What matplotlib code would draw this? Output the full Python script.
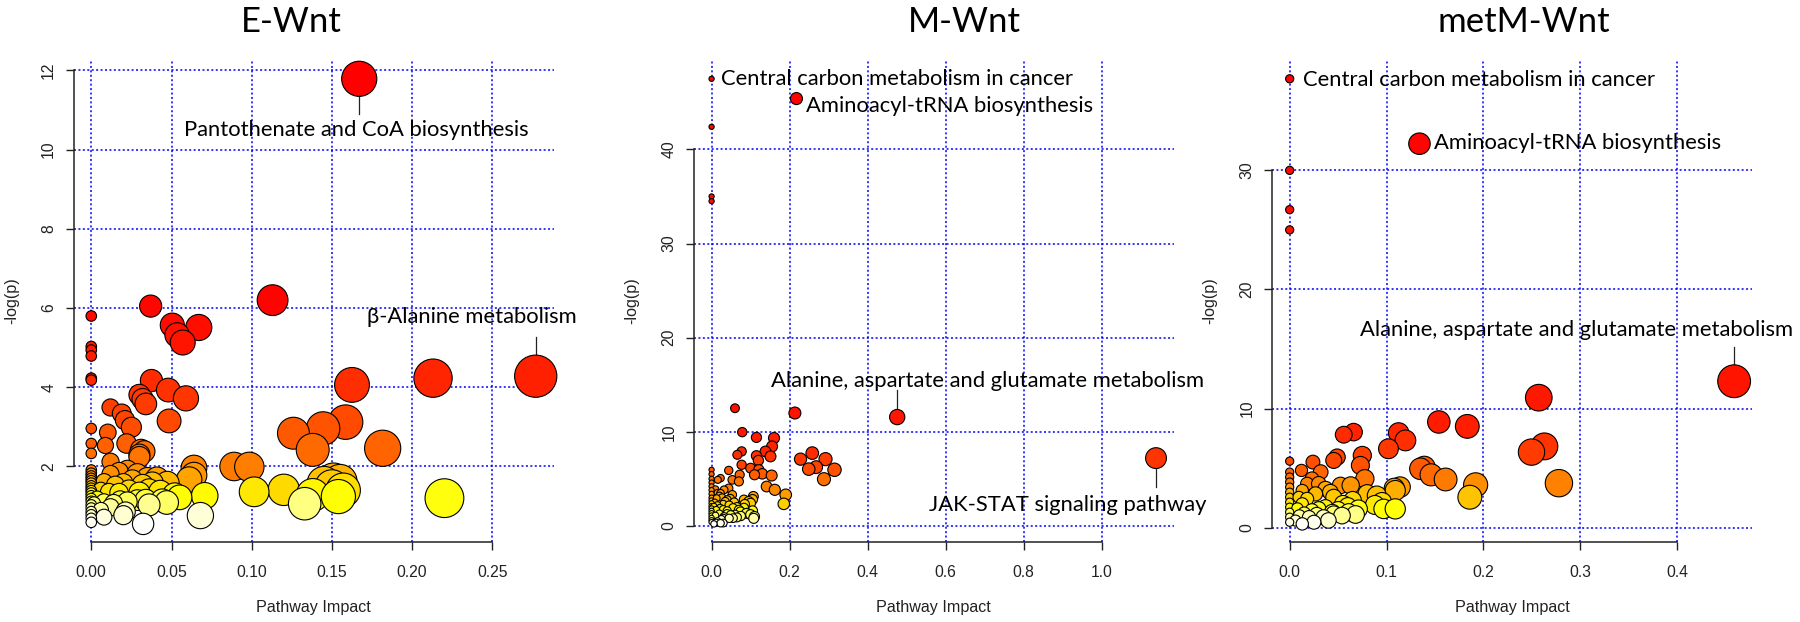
import numpy as np
import matplotlib
matplotlib.use("Agg")
import matplotlib.pyplot as plt
from matplotlib.collections import EllipseCollection
import colorsys

# ---------------- data ----------------
titles = ["E-Wnt", "M-Wnt", "metM-Wnt"]

e_impact = [0.167, 0.113, 0.037, 0.000, 0.0505, 0.067, 0.0535, 0.057, 0.000, 0.000,
            0.000, 0.277, 0.000, 0.213, 0.000, 0.0375, 0.1625, 0.048, 0.030, 0.059,
            0.032, 0.034, 0.012, 0.019, 0.021, 0.0485, 0.1585, 0.025, 0.000, 0.1445,
            0.0103, 0.126, 0.000, 0.022, 0.0088, 0.1816, 0.031, 0.138, 0.033, 0.000,
            0.030, 0.030, 0.012, 0.089, 0.0985, 0.064,
            0.000, 0.000, 0.000, 0.000, 0.000, 0.000, 0.000, 0.000, 0.000, 0.000,
            0.000, 0.000, 0.000, 0.000, 0.000, 0.000, 0.000, 0.000, 0.000,
            0.0225, 0.0173, 0.012, 0.0287, 0.064, 0.035, 0.041, 0.061, 0.0256, 0.151,
            0.008, 0.155, 0.0474, 0.020, 0.038, 0.145, 0.015, 0.032, 0.150, 0.006,
            0.0235, 0.036, 0.120, 0.157, 0.011, 0.043, 0.1015, 0.0173, 0.030, 0.052,
            0.138, 0.0707, 0.154, 0.055, 0.2201, 0.0037, 0.018, 0.0287, 0.034, 0.0443,
            0.0079, 0.0225, 0.047, 0.014, 0.0017, 0.133, 0.036, 0.012, 0.006, 0.0214,
            0.020, 0.068, 0.0079, 0.0323]
e_logp = [11.79, 6.20, 6.05, 5.80, 5.57, 5.51, 5.32, 5.13, 5.03, 4.94,
          4.79, 4.28, 4.23, 4.23, 4.18, 4.17, 4.06, 3.93, 3.81, 3.72,
          3.70, 3.58, 3.49, 3.34, 3.17, 3.15, 3.12, 2.99, 2.96, 2.96,
          2.86, 2.84, 2.58, 2.58, 2.53, 2.46, 2.42, 2.42, 2.38, 2.33,
          2.30, 2.24, 2.12, 2.00, 1.99, 1.96,
          1.91, 1.83, 1.76, 1.70, 1.64, 1.58, 1.51, 1.45, 1.39, 1.33,
          1.26, 1.19, 1.12, 1.03, 0.95, 0.86, 0.78, 0.69, 0.59,
          1.91, 1.87, 1.81, 1.81, 1.78, 1.70, 1.70, 1.67, 1.66, 1.66,
          1.62, 1.62, 1.58, 1.58, 1.58, 1.58, 1.53, 1.53, 1.49, 1.41,
          1.41, 1.41, 1.41, 1.40, 1.36, 1.36, 1.36, 1.34, 1.34, 1.28,
          1.28, 1.26, 1.24, 1.22, 1.20, 1.20, 1.15, 1.15, 1.15, 1.14,
          1.11, 1.11, 1.09, 1.07, 1.07, 1.06, 1.03, 0.97, 0.90, 0.86,
          0.77, 0.76, 0.72, 0.55]

m_impact = [0.000, 0.2175, 0.000, 0.000, 0.000, 0.060, 0.2135, 0.4757, 0.0786, 0.115,
            0.160, 0.155, 0.138, 0.077, 0.258, 0.066, 0.115, 0.151, 1.139, 0.228,
            0.292, 0.120, 0.077, 0.268, 0.100, 0.249, 0.121, 0.315, 0.000, 0.044,
            0.130, 0.000, 0.110, 0.072, 0.154, 0.023, 0.000, 0.288, 0.053, 0.016,
            0.070, 0.000, 0.000, 0.141, 0.044, 0.010, 0.162, 0.032, 0.000, 0.015,
            0.023, 0.000, 0.190, 0.053, 0.020, 0.107, 0.000, 0.027, 0.013, 0.048,
            0.105, 0.040, 0.083, 0.000, 0.035, 0.095, 0.008, 0.058, 0.000, 0.100,
            0.185, 0.030, 0.085, 0.045, 0.015, 0.000, 0.006, 0.065, 0.022, 0.055,
            0.083, 0.000, 0.030, 0.012, 0.070, 0.000, 0.040, 0.105, 0.074, 0.000,
            0.091, 0.089, 0.020, 0.040, 0.060, 0.100, 0.049, 0.000, 0.010, 0.075,
            0.032, 0.110, 0.065, 0.000, 0.055, 0.030, 0.108, 0.045, 0.025, 0.000,
            0.015, 0.000, 0.012, 0.030, 0.023, 0.006]
m_logp = [47.5, 45.4, 42.4, 35.0, 34.5, 12.5, 11.99, 11.56, 9.96, 9.40,
          9.33, 8.44, 7.91, 7.91, 7.73, 7.55, 7.45, 7.38, 7.20, 7.09,
          7.09, 6.95, 6.49, 6.24, 6.13, 6.03, 5.96, 5.96, 5.96, 5.89,
          5.53, 5.50, 5.43, 5.43, 5.35, 5.07, 5.00, 4.96, 4.89, 4.89,
          4.72, 4.60, 4.20, 4.18, 4.00, 3.90, 3.83, 3.83, 3.80, 3.50,
          3.48, 3.40, 3.30, 3.30, 3.20, 3.12, 3.00, 3.00, 2.94, 2.90,
          2.80, 2.77, 2.77, 2.70, 2.60, 2.60, 2.50, 2.50, 2.40, 2.41,
          2.34, 2.30, 2.30, 2.20, 2.20, 2.10, 2.06, 2.00, 1.90, 1.90,
          1.90, 1.85, 1.75, 1.70, 1.70, 1.60, 1.60, 1.60, 1.52, 1.35,
          1.35, 1.34, 1.30, 1.30, 1.20, 1.20, 1.17, 1.10, 1.10, 1.05,
          0.99, 0.99, 0.90, 0.85, 0.82, 0.82, 0.80, 0.80, 0.70, 0.60,
          0.50, 0.40, 0.35, 0.30, 0.28, 0.21]

metm_impact = [0.000, 0.134, 0.000, 0.000, 0.000, 0.4589, 0.2572, 0.154, 0.1834, 0.066,
               0.1125, 0.0558, 0.1195, 0.263, 0.102, 0.2497, 0.075, 0.049, 0.0455, 0.000,
               0.024, 0.073, 0.139, 0.135, 0.0122, 0.000, 0.032, 0.146, 0.000, 0.023,
               0.0776, 0.161, 0.000, 0.278, 0.018, 0.030, 0.192, 0.0525, 0.063, 0.114,
               0.000, 0.108, 0.037, 0.013, 0.109, 0.042, 0.000, 0.0267, 0.080, 0.090,
               0.186, 0.0455, 0.000, 0.0095, 0.018, 0.065, 0.0953, 0.000, 0.055, 0.013,
               0.088, 0.060, 0.037, 0.000, 0.008, 0.097, 0.109, 0.071, 0.030, 0.050,
               0.023, 0.061, 0.044, 0.000, 0.015, 0.0455, 0.028, 0.068, 0.054, 0.010,
               0.000, 0.020, 0.035, 0.040, 0.006, 0.000, 0.025, 0.013]
metm_logp = [37.69, 32.24, 30.00, 26.70, 25.00, 12.29, 10.91, 8.87, 8.50, 8.02,
             7.95, 7.80, 7.32, 6.82, 6.62, 6.34, 6.06, 5.92, 5.64, 5.58,
             5.50, 5.22, 5.08, 4.94, 4.80, 4.66, 4.66, 4.43, 4.24, 4.10,
             4.10, 4.04, 3.82, 3.73, 3.68, 3.68, 3.59, 3.54, 3.54, 3.40,
             3.40, 3.30, 3.25, 3.11, 3.11, 2.97, 2.97, 2.83, 2.83, 2.69,
             2.55, 2.55, 2.55, 2.55, 2.41, 2.30, 2.13, 2.13, 2.00, 1.99,
             1.90, 1.80, 1.71, 1.71, 1.60, 1.57, 1.57, 1.57, 1.57, 1.50,
             1.43, 1.29, 1.29, 1.29, 1.20, 1.15, 1.10, 1.10, 1.01, 1.00,
             0.87, 0.87, 0.87, 0.60, 0.59, 0.45, 0.45, 0.31]

e_xticks = [0.00, 0.05, 0.10, 0.15, 0.20, 0.25]
m_xticks = [0.0, 0.2, 0.4, 0.6, 0.8, 1.0]
metm_xticks = [0.0, 0.1, 0.2, 0.3, 0.4]
e_yticks = [2, 4, 6, 8, 10, 12]
m_yticks = [0, 10, 20, 30, 40]
metm_yticks = [0, 10, 20, 30]
e_xfmt, m_xfmt, metm_xfmt = "{:.2f}", "{:.1f}", "{:.1f}"

# labelled pathways: (text, index of the point in the panel arrays)
e_labels = [("Pantothenate and CoA biosynthesis", 0), ("β-Alanine metabolism", 11)]
m_labels = [("Central carbon metabolism in cancer", 0), ("Aminoacyl-tRNA biosynthesis", 1),
            ("Alanine, aspartate and glutamate metabolism", 7), ("JAK-STAT signaling pathway", 18)]
metm_labels = [("Central carbon metabolism in cancer", 0), ("Aminoacyl-tRNA biosynthesis", 1),
               ("Alanine, aspartate and glutamate metabolism", 5)]

# ---------------- helpers ----------------
def heat_colors(n):
    j = n // 4
    i = n - j
    cols = [colorsys.hsv_to_rgb(h, 1.0, 1.0) for h in np.linspace(0, 1 / 6, i)]
    if j > 0:
        for s in np.linspace(1 - 1 / (2 * j), 1 / (2 * j), j):
            cols.append(colorsys.hsv_to_rgb(1 / 6, s, 1.0))
    return cols

W, H = 1800, 622
fig = plt.figure(figsize=(W / 100, H / 100), dpi=100)
AX_FONT = ["Liberation Sans", "DejaVu Sans"]
LAB_FONT = ["Lato", "DejaVu Sans"]

ax_left_px = [73.5, 693.8, 1271.9]
ax_w_px = 480.0
ax_top_px, ax_bot_px = 61.0, 541.7

renderer = fig.canvas.get_renderer()
def fit_size(text, target_px, family, base=20):
    t = fig.text(0, 0, text, fontsize=base, family=family)
    w = t.get_window_extent(renderer).width
    t.remove()
    return base * target_px / w

label_fs = fit_size("Central carbon metabolism in cancer", 354, LAB_FONT)
title_fs = fit_size("metM-Wnt", 173, LAB_FONT)

panels = [
    (e_impact, e_logp, e_xticks, e_yticks, e_xfmt, e_labels),
    (m_impact, m_logp, m_xticks, m_yticks, m_xfmt, m_labels),
    (metm_impact, metm_logp, metm_xticks, metm_yticks, metm_xfmt, metm_labels),
]

# label layout: (x, baseline y, leader line end y or None) in data units of each panel
label_layout = [
    [(0.1652, 10.35, 10.89), (0.2373, 5.62, 5.27)],
    [(0.476, 46.8, None), (0.610, 43.97, None), (0.706, 14.76, 14.39), (0.913, 1.63, 4.12)],
    [(0.1955, 37.12, None), (0.2976, 31.79, None), (0.2957, 16.10, 15.18)],
]
title_cx_px = [291.8, 964.0, 1523.7]

for k, (imp, lp, xt, yt, xfmt, labs) in enumerate(panels):
    ax = fig.add_axes([ax_left_px[k] / W, (H - ax_bot_px) / H,
                       ax_w_px / W, (ax_bot_px - ax_top_px) / H])
    x = np.asarray(imp, float)
    y = np.asarray(lp, float)
    order = np.argsort(-y, kind="stable")
    xs, ys = x[order], y[order]
    sq = np.sqrt(xs)
    mn, mx = sq.min(), sq.max()
    maxR, minR = (mx - mn) / 40, (mx - mn) / 160
    r = minR + (maxR - minR) * (sq - mn) / (mx - mn)
    cols = heat_colors(len(ys))

    xr, yr = x.max() - x.min(), y.max() - y.min()
    ax.set_xlim(x.min() - 0.04 * xr, x.max() + 0.04 * xr)
    ax.set_ylim(y.min() - 0.04 * yr, y.max() + 0.04 * yr)

    ax.set_xticks(xt)
    ax.set_xticklabels([xfmt.format(v) for v in xt], family=AX_FONT)
    ax.set_yticks(yt)
    ax.set_yticklabels([str(v) for v in yt], family=AX_FONT)
    ax.tick_params(axis="both", direction="out", length=5.8, width=1.0,
                   colors="#222222", labelsize=11.3)
    ax.tick_params(axis="x", pad=10.8)
    ax.tick_params(axis="y", pad=6.7, labelrotation=90)
    for lab in ax.get_yticklabels():
        lab.set_va("center")
    for s in ["top", "right"]:
        ax.spines[s].set_visible(False)
    for s in ["left", "bottom"]:
        ax.spines[s].set_linewidth(1.1)
        ax.spines[s].set_color("#222222")
    ax.spines["left"].set_bounds(yt[0], yt[-1])
    ax.spines["bottom"].set_bounds(xt[0], xt[-1])
    ax.set_facecolor("none")
    ax.set_axisbelow(True)
    ax.grid(True, color="#0000FF", linestyle=(0, (1.3, 1.6)), linewidth=1.1)

    ec = EllipseCollection(2 * r, 2 * r, np.zeros_like(r), units="x",
                           offsets=np.column_stack([xs, ys]),
                           offset_transform=ax.transData,
                           facecolors=cols, edgecolors="black", linewidths=0.8,
                           zorder=3)
    ec.set_clip_on(False)
    ax.add_collection(ec, autolim=False)

    for (txt, idx), (lx, ly, lend) in zip(labs, label_layout[k]):
        ax.text(lx, ly, txt, ha="center", va="baseline", fontsize=label_fs,
                family=LAB_FONT, color="black", clip_on=False, zorder=5)
        if lend is not None:
            ax.plot([imp[idx], imp[idx]], [lend, lp[idx]], color="#222222",
                    lw=0.9, zorder=2, clip_on=False)

    cx = (ax_left_px[k] + ax_w_px / 2) / W
    fig.text(cx, (H - 611.7) / H, "Pathway Impact", ha="center", va="baseline",
             fontsize=11.6, family=AX_FONT, color="#222222")
    fig.text((ax_left_px[k] - 62) / W, (H - 301) / H, "-log(p)", rotation=90,
             ha="center", va="center", fontsize=11.6, family=AX_FONT, color="#222222")
    fig.text(title_cx_px[k] / W, (H - 31.7) / H, titles[k], ha="center",
             va="baseline", fontsize=title_fs, family=LAB_FONT, color="black")

fig.savefig("out.png", dpi=100, facecolor="white")
